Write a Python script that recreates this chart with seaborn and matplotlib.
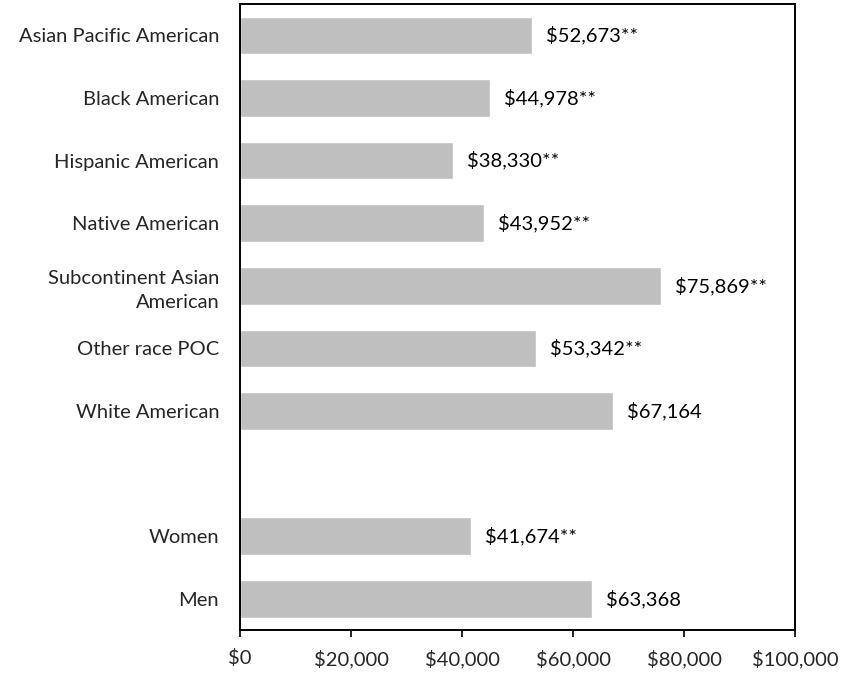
import numpy as np
import pandas as pd
import matplotlib
matplotlib.use("Agg")
import matplotlib.pyplot as plt
import seaborn as sns

categories = [
    "Asian Pacific American",
    "Black American",
    "Hispanic American",
    "Native American",
    "Subcontinent Asian\nAmerican",
    "Other race POC",
    "White American",
    " ",
    "Women",
    "Men",
]
values = [52673, 44978, 38330, 43952, 75869, 53342, 67164, np.nan, 41674, 63368]
flags = ["**", "**", "**", "**", "**", "**", "", "", "**", ""]
xticks = [0, 20000, 40000, 60000, 80000, 100000]

sns.set_theme(style="white")
plt.rcParams["font.family"] = ["Lato", "DejaVu Sans"]

df = pd.DataFrame({"group": categories, "income": values})

fig = plt.figure(figsize=(8.5, 6.76), dpi=100)
ax = fig.add_axes([0.2824, 0.068, 0.6529, 0.926])

sns.barplot(data=df, x="income", y="group", order=categories, orient="h",
            color="#BFBFBF", saturation=1, width=0.6, ax=ax)

for i, (v, f) in enumerate(zip(values, flags)):
    if np.isnan(v):
        continue
    ax.annotate(f"${v:,.0f}{f}", xy=(v, i), xytext=(10, 0), textcoords="offset points",
                va="center", ha="left", fontsize=14.5, color="#000000")

ax.set_xlim(0, 100000)
ax.set_ylim(len(categories) - 0.5, -0.5)
ax.set_xticks(xticks)
ax.set_xticklabels([f"${t:,}" for t in xticks], fontsize=14.5)
ax.tick_params(axis="y", labelsize=14.5, length=0, pad=15)
ax.tick_params(axis="x", bottom=True, length=5, width=1.2, direction="out", pad=9, color="black")
ax.set_xlabel("")
ax.set_ylabel("")
for lbl in ax.get_yticklabels():
    lbl.set_multialignment("right")
    lbl.set_linespacing(1.45)
for s in ax.spines.values():
    s.set_visible(True)
    s.set_color("black")
    s.set_linewidth(1.4)

fig.savefig("out.png", dpi=100)
